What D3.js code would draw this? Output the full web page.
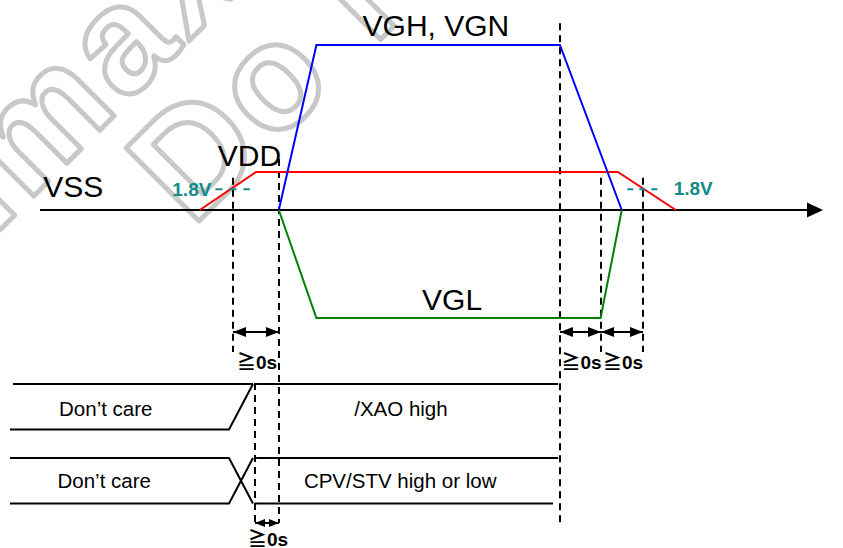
<!DOCTYPE html>
<html>
<head>
<meta charset="utf-8">
<script src="https://cdn.jsdelivr.net/npm/d3@7/dist/d3.min.js"></script>
<style>
  html, body { margin: 0; padding: 0; background: #ffffff; }
  svg { display: block; }
</style>
</head>
<body>
<svg id="chart" width="843" height="548"></svg>
<script>
// ---------------- DATA ----------------
// time in arbitrary units (0 .. 100 along the VSS time axis), voltage in volts
const vddWave = [[20.4, 0], [27.6, 3.3], [73.8, 3.3], [81.2, 0]];
const vghWave = [[30.5, 0], [35.3, 15], [66.4, 15], [74.3, 0]];
const vglWave = [[30.5, 0], [35.3, -10], [71.6, -10], [74.3, 0]];
const levelNames = ["VSS", "VDD", "VGH, VGN", "VGL"];
const thresholdV = 1.8;
const thresholdLabel = "1.8V";

// dashed timing markers: time, top voltage, which lower block they reach
const markerTimes   = [24.65, 30.52, 66.41, 71.65, 77.01, 27.46];
const markerTopV    = [2.8, 4.5, 17, 2.8, 2.8, null];
const markerReach   = ["gap", "bottom", "bottom", "gap", "gap", "bottom"];

// timing constraints (arrows)
const gapFrom  = [24.65, 66.41, 71.65, 27.46];
const gapTo    = [30.52, 71.65, 77.01, 30.52];
const gapRow   = ["upper", "upper", "upper", "lower"];
const gapLabel = "\u22670s";

// logic signals: [time, level] (1 = high edge of band, 0 = low edge)
const rowNames = ["XAO", "CPV"];
const dontCare = "Don\u2019t care";
const xaoTop    = [[-3.45, 1], [27.2, 1]];
const xaoBottom = [[-3.83, 0], [24.14, 0], [27.2, 1]];
const xaoHigh   = [[27.6, 1], [66.16, 1]];
const cpvTop    = [[-3.83, 1], [24.14, 1], [27.2, 0]];
const cpvBottom = [[-3.83, 0], [24.14, 0], [27.2, 1]];
const cpvHighT  = [[27.6, 1], [66.16, 1]];
const cpvHighB  = [[27.46, 0], [65.52, 0]];
const rowLabels = ["/XAO high", "CPV/STV high or low"];

// watermark words
const watermarkLines = ["Himax", "Do Not Copy"];

// ---------------- SCALES ----------------
const svg = d3.select("#chart");
const x = d3.scaleLinear().domain([0, 100]).range([40, 823]);
const y = d3.scaleLinear().domain([-10, 0, 3.3, 15]).range([318, 210, 172, 45]);
const rowY = d3.scalePoint().domain(rowNames).range([384, 458]);
const lvl  = d3.scaleLinear().domain([1, 0]).range([0, 45.5]);
const gapY = {upper: 332, lower: 523};
const reachY = {gap: 352, bottom: 523};

const FONT = "'Liberation Sans', Arial, Helvetica, sans-serif";
const SYMFONT = "'Liberation Sans', Arial, 'Noto Sans CJK JP', sans-serif";

// ---------------- WATERMARK ----------------
const wm = svg.append("g").attr("fill", "none").attr("stroke", "#c8c8c8")
  .attr("stroke-width", 5).attr("stroke-linejoin", "round")
  .style("font-family", FONT).style("font-weight", "bold")
  .style("font-size", "150px");
wm.append("text").attr("transform", "translate(-88,318) rotate(-45)")
  .style("letter-spacing", "6px").text(watermarkLines[0]);
wm.append("text").attr("transform", "translate(192,228) rotate(-45)")
  .style("letter-spacing", "5px").text(watermarkLines[1]);

// ---------------- AXIS ----------------
svg.append("line").attr("x1", x(0)).attr("x2", x(100) - 14)
  .attr("y1", y(0)).attr("y2", y(0)).attr("stroke", "#000").attr("stroke-width", 2);
svg.append("path")
  .attr("d", `M${x(100)},${y(0)} L${x(100) - 16},${y(0) - 7.5} L${x(100) - 16},${y(0) + 7.5} Z`)
  .attr("fill", "#000");

// ---------------- DASHED MARKERS ----------------
markerTimes.forEach((t, i) => {
  const top = markerTopV[i] === null ? 383 : y(markerTopV[i]);
  svg.append("line")
    .attr("x1", x(t)).attr("x2", x(t))
    .attr("y1", top).attr("y2", reachY[markerReach[i]])
    .attr("stroke", "#000").attr("stroke-width", 2)
    .attr("stroke-dasharray", "7,5");
});

// ---------------- ANALOG WAVES ----------------
const line = d3.line().x(d => x(d[0])).y(d => y(d[1]));
svg.append("path").datum(vddWave).attr("d", line)
  .attr("fill", "none").attr("stroke", "#ff0000").attr("stroke-width", 2);
svg.append("path").datum(vglWave).attr("d", line)
  .attr("fill", "none").attr("stroke", "#008000").attr("stroke-width", 2);
svg.append("path").datum(vghWave).attr("d", line)
  .attr("fill", "none").attr("stroke", "#0000ff").attr("stroke-width", 2);

// threshold dashes + labels
const teal = "#138a8a";
svg.append("line").attr("x1", x(22.4)).attr("x2", x(26.8))
  .attr("y1", y(thresholdV)).attr("y2", y(thresholdV))
  .attr("stroke", teal).attr("stroke-width", 2).attr("stroke-dasharray", "7,7");
svg.append("line").attr("x1", x(75.0)).attr("x2", x(79.4))
  .attr("y1", y(thresholdV)).attr("y2", y(thresholdV))
  .attr("stroke", teal).attr("stroke-width", 2).attr("stroke-dasharray", "6,6");
svg.append("text").attr("x", x(22.4) - 4).attr("y", y(thresholdV) + 7)
  .attr("text-anchor", "end")
  .attr("fill", teal).style("font-family", FONT).style("font-weight", "bold")
  .style("font-size", "19px").text(thresholdLabel);
svg.append("text").attr("x", x(79.4) + 12).attr("y", y(thresholdV) + 6)
  .attr("fill", teal).style("font-family", FONT).style("font-weight", "bold")
  .style("font-size", "19px").text(thresholdLabel);

// level labels
const bigText = (txt, px, py) => svg.append("text").attr("x", px).attr("y", py)
  .style("font-family", FONT).style("font-size", "30px").attr("fill", "#000").text(txt);
bigText(levelNames[0], x(0.4), y(0) - 13);
bigText(levelNames[1], x(22.7), y(3.3) - 6);
bigText(levelNames[2], x(41.2), y(15) - 9);
bigText(levelNames[3], x(48.8), y(-10) - 8);

// ---------------- ARROWS ----------------
gapFrom.forEach((f, i) => {
  const x1 = x(f), x2 = x(gapTo[i]), yy = gapY[gapRow[i]];
  const big = gapRow[i] === "upper";
  const L = big ? 13 : 10, H = big ? 5 : 4;
  svg.append("line").attr("x1", x1).attr("x2", x2).attr("y1", yy).attr("y2", yy)
    .attr("stroke", "#000").attr("stroke-width", 2);
  svg.append("path").attr("d",
      `M${x1},${yy} L${x1 + L},${yy - H} L${x1 + L},${yy + H} Z ` +
      `M${x2},${yy} L${x2 - L},${yy - H} L${x2 - L},${yy + H} Z`)
    .attr("fill", "#000");
  svg.append("text").attr("x", (x1 + x2) / 2 + 1).attr("y", big ? yy + 37 : yy + 23)
    .attr("text-anchor", "middle")
    .style("font-family", SYMFONT).style("font-weight", "bold").style("font-size", "19px")
    .text(gapLabel);
});

// ---------------- LOGIC ROWS ----------------
const lineRow = row => d3.line().x(d => x(d[0])).y(d => rowY(row) + lvl(d[1]));
const drawLogic = (data, row) => svg.append("path").datum(data).attr("d", lineRow(row))
  .attr("fill", "none").attr("stroke", "#000").attr("stroke-width", 2);
drawLogic(xaoTop, "XAO");
drawLogic(xaoBottom, "XAO");
drawLogic(xaoHigh, "XAO");
drawLogic(cpvTop, "CPV");
drawLogic(cpvBottom, "CPV");
drawLogic(cpvHighT, "CPV");
drawLogic(cpvHighB, "CPV");

const midText = (txt, px, py) => svg.append("text").attr("x", px).attr("y", py)
  .attr("text-anchor", "middle").style("font-family", FONT).style("font-size", "20.5px")
  .attr("fill", "#000").text(txt);
midText(dontCare, x(8.4), rowY("XAO") + 32);
midText(dontCare, x(8.2), rowY("CPV") + 30);
midText(rowLabels[0], x(46.1), rowY("XAO") + 32);
midText(rowLabels[1], x(46.0), rowY("CPV") + 30);
</script>
</body>
</html>
